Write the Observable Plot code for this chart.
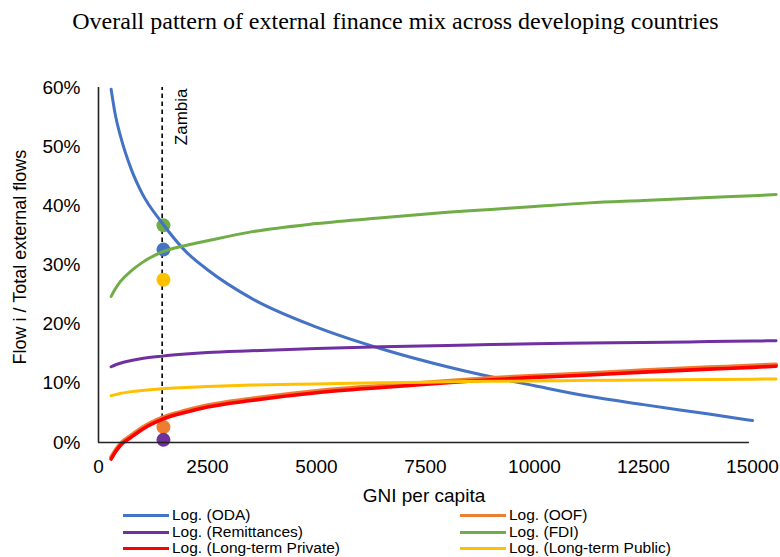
<!DOCTYPE html>
<html>
<head>
<meta charset="utf-8">
<script src="https://cdn.jsdelivr.net/npm/d3@7"></script>
<script src="https://cdn.jsdelivr.net/npm/@observablehq/plot@0.6"></script>
<style>
  body { margin: 0; background: #fff; }
  #wrap { position: relative; width: 780px; height: 557px; overflow: hidden; background: #fff;
          font-family: "Liberation Sans", Arial, sans-serif; color: #000; }
  #wrap svg { position: absolute; left: 0; top: 0; }
  .txt { position: absolute; white-space: nowrap; pointer-events: none; }
  #title { left: 0; width: 791px; top: 9px; text-align: center; font-family: "Liberation Serif", "Times New Roman", serif;
           font-size: 24px; line-height: 24px; }
  #ylab { left: 20px; top: 257px; font-size: 18px; line-height: 18px; transform: translate(-50%, -50%) rotate(-90deg); }
  #xlab { left: 0; width: 848px; top: 486px; text-align: center; font-size: 19px; line-height: 19px; }
  .sw { position: absolute; height: 3px; }
  .lg { font-size: 15.5px; line-height: 16px; }
</style>
</head>
<body>
<div id="wrap"></div>
<script>
// ---- data (GNI per capita vs share of total external flows, %) ----
const gniPoints = [290, 380, 500, 750, 1000, 1460, 2000, 2500, 3500, 5000, 6500, 8000, 9000, 10000, 11250, 12500, 14000, 15000, 15540];
const odaShare        = [59.7, 55.6, 51.9, 46.2, 42.1, 37.1, 32.3, 29.2, 24.4, 19.5, 15.8, 12.8, 11.1, 9.6, 7.8, 6.4, 4.8, 3.7, null];
const oofShare        = [-2.5, -1.4, -0.2, 1.2, 2.5, 4.2, 5.4, 6.3, 7.4, 8.7, 9.6, 10.4, 10.9, 11.3, 11.7, 12.2, 12.7, 13.0, 13.2];
const remitShare      = [12.8, 13.1, 13.4, 13.85, 14.2, 14.6, 14.95, 15.2, 15.5, 15.9, 16.2, 16.4, 16.55, 16.7, 16.8, 16.9, 17.05, 17.15, 17.2];
const fdiShare        = [24.7, 25.9, 27.2, 29.0, 30.4, 32.2, 33.3, 34.1, 35.6, 37.0, 38.0, 38.9, 39.4, 39.9, 40.5, 40.9, 41.4, 41.7, 41.9];
const ltPrivateShare  = [-2.8, -1.7, -0.5, 0.9, 2.2, 3.9, 5.1, 6.0, 7.1, 8.4, 9.3, 10.1, 10.6, 11.0, 11.4, 11.9, 12.4, 12.7, 12.9];
const ltPublicShare   = [7.9, 8.1, 8.3, 8.6, 8.8, 9.1, 9.3, 9.45, 9.7, 9.9, 10.1, 10.25, 10.35, 10.4, 10.5, 10.55, 10.65, 10.7, 10.75];

const seriesNames = ["Log. (ODA)", "Log. (OOF)", "Log. (Remittances)", "Log. (FDI)", "Log. (Long-term Private)", "Log. (Long-term Public)"];
const seriesValues = [odaShare, oofShare, remitShare, fdiShare, ltPrivateShare, ltPublicShare];

// Zambia observation
const zambiaLabel = "Zambia";
const zambiaGni = 1460;
const zambiaDotGni = 1490;
const zambiaSeries = ["ODA", "OOF", "Remittances", "FDI", "Long-term Public"];
const zambiaShares = [32.6, 2.6, 0.45, 36.7, 27.5];

const xTicks = [0, 2500, 5000, 7500, 10000, 12500, 15000];
const yTicks = [0, 0.1, 0.2, 0.3, 0.4, 0.5, 0.6];

const titleText = "Overall pattern of external finance mix across developing countries";
const xLabel = "GNI per capita";
const yLabel = "Flow i / Total external flows";

// ---- styles ----
const palette = ["#4472C4", "#ED7D31", "#7030A0", "#70AD47", "#FF0000", "#FFC000"];
const lineWidths = [3, 4, 3, 3, 3.6, 3];
const zambiaColors = ["#4472C4", "#ED7D31", "#7030A0", "#70AD47", "#FFC000"];

const lineMarks = seriesValues.map((vals, i) => {
  const rows = gniPoints.map((g, j) => ({gni: g, share: vals[j] == null ? null : vals[j] / 100}))
    .filter(d => d.share != null);
  return Plot.line(rows, {x: "gni", y: "share", stroke: palette[i], strokeWidth: lineWidths[i], curve: "monotone-x"});
});

const dotMarks = zambiaSeries.map((s, i) =>
  Plot.dot([{gni: zambiaDotGni, share: zambiaShares[i] / 100}], {x: "gni", y: "share", r: 7, fill: zambiaColors[i], stroke: "none"}));

const chart = Plot.plot({
  width: 780,
  height: 557,
  marginLeft: 98,
  marginRight: 28,
  marginTop: 87,
  marginBottom: 115,
  style: {fontFamily: "'Liberation Sans', Arial, sans-serif", fontSize: "19px", color: "#000", background: "transparent", overflow: "visible"},
  x: {domain: [0, 15000], ticks: xTicks, tickSize: 0, tickPadding: 17, tickFormat: d => String(d), label: null},
  y: {domain: [0, 0.6], ticks: yTicks, tickSize: 0, tickPadding: 18, tickFormat: d3.format(".0%"), label: null},
  marks: [
    Plot.ruleX([zambiaGni], {y1: 0, y2: 0.6, stroke: "#000", strokeWidth: 1.6, strokeDasharray: "4.5,3.5"}),
    Plot.text([zambiaLabel], {x: zambiaGni, y: 0.6, text: d => d, rotate: -90, textAnchor: "end", lineAnchor: "middle",
      fontSize: 17, dx: 19, dy: 1, fill: "#000"}),
    ...dotMarks,
    ...lineMarks,
    Plot.ruleX([0], {y1: 0, y2: 0.6, stroke: "#222", strokeWidth: 1.6}),
    Plot.ruleY([0], {x1: 0, x2: 14930, stroke: "#222", strokeWidth: 1.6})
  ]
});

const wrap = document.getElementById("wrap");
wrap.appendChild(chart);

function addText(id, text, cls) {
  const d = document.createElement("div");
  d.className = "txt " + (cls || "");
  if (id) d.id = id;
  d.textContent = text;
  wrap.appendChild(d);
  return d;
}
addText("title", titleText);
addText("ylab", yLabel);
addText("xlab", xLabel);

// legend: 2 columns x 3 rows
const legendCols = [{sw: 123, w: 46, tx: 172}, {sw: 460, w: 46, tx: 509}];
const legendRowMid = [515.7, 532, 548.3];
seriesNames.forEach((name, i) => {
  const col = legendCols[i % 2];
  const row = Math.floor(i / 2);
  const sw = document.createElement("div");
  sw.className = "sw";
  sw.style.left = col.sw + "px";
  sw.style.width = col.w + "px";
  sw.style.top = (legendRowMid[row] - 1.5) + "px";
  sw.style.background = palette[i];
  wrap.appendChild(sw);
  const t = addText(null, name, "lg");
  t.style.left = col.tx + "px";
  t.style.top = (legendRowMid[row] + 5.3 - 13.6) + "px";
});
</script>
</body>
</html>
